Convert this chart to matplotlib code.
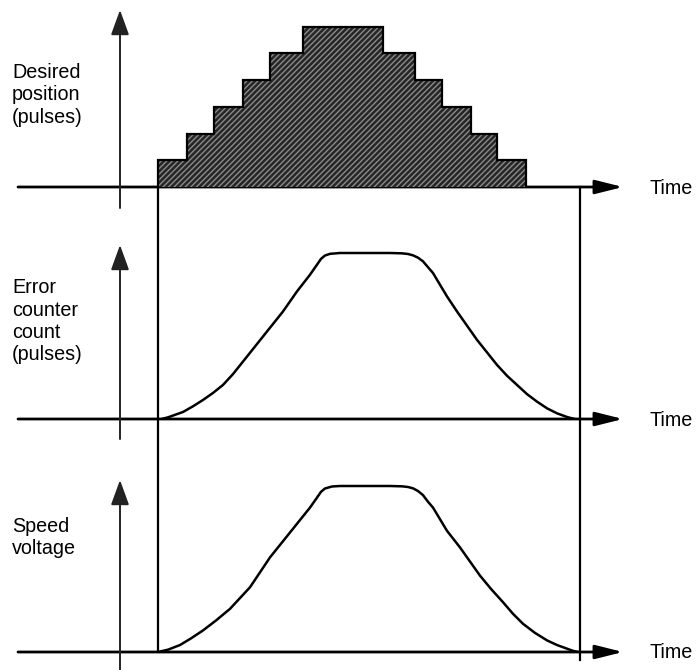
import matplotlib
matplotlib.use('Agg')
import matplotlib.pyplot as plt

# desired position: stair steps (time edges, pulse level)
step_edges = [0, 29, 56, 85, 112, 145, 225, 257, 284, 313, 339, 368]
step_levels = [1, 2, 3, 4, 5, 6, 5, 4, 3, 2, 1]

# error counter count (% of max)
err_t = [0, 10, 25, 35, 45, 55, 65, 75, 85, 95, 105, 115, 125, 139, 152, 159, 163, 167,
         172, 182, 232, 244, 250, 255, 260, 265, 270, 275, 282, 289, 299, 309, 319, 329,
         339, 349, 359, 369, 379, 389, 399, 409, 414, 418, 422]
err_v = [0, 1.6, 4.8, 8.2, 12, 16.2, 21, 27.5, 35, 42.5, 50, 57.5, 65, 77, 87, 93, 96.5, 98.5,
         99.5, 100, 100, 99.8, 99.4, 98.6, 97.2, 95, 91.5, 88, 81, 74, 65, 56.5, 48, 40.5,
         33, 26.5, 21, 15.5, 11, 7, 4, 1.8, 1, 0.4, 0]

# speed voltage (% of max)
spd_t = [0, 10, 22, 33, 45, 58, 72, 82, 92, 102, 112, 122, 132, 142, 152, 159, 163, 167,
         174, 182, 232, 244, 250, 255, 260, 265, 270, 275, 282, 289, 302, 312, 322, 333,
         345, 355, 365, 377, 389, 399, 409, 415, 420]
spd_v = [0, 1.4, 4.2, 8.2, 13, 19, 26, 32.5, 39, 48, 57, 64.5, 72, 79.5, 87, 93, 96.5, 98.5,
         99.7, 100, 100, 99.8, 99.4, 98.6, 97, 94.5, 90.5, 87, 80, 73, 63, 54.5, 46, 38,
         30, 23, 17, 11.5, 7, 4.2, 2, 0.7, 0]

plt.rcParams['font.family'] = ['Liberation Sans', 'DejaVu Sans']
W, H = 696, 670
fig = plt.figure(figsize=(W / 100, H / 100), dpi=100)

def panel(top, base):
    ax = fig.add_axes([0, 1 - base / H, 1, (base - top) / H])
    ax.set_xlim(-158, W - 158)
    ax.axis('off')
    return ax

# top panel: hatched stair
ax1 = panel(0, 187)
ax1.set_ylim(0, 187 / 26.7)
ax1.stairs(step_levels, step_edges, fill=True, facecolor='#262626', linewidth=0)
ax1.stairs(step_levels, step_edges, fill=True, facecolor='none', edgecolor='#8a8a8a',
           hatch='//////', linewidth=0)
ax1.stairs(step_levels, step_edges, color='black', linewidth=1.6)

ax2 = panel(220, 420)
ax2.set_ylim(0, 200 / 1.67)
ax2.plot(err_t, err_v, color='black', lw=1.8, solid_joinstyle='round')

ax3 = panel(460, 652)
ax3.set_ylim(0, 192 / 1.66)
ax3.plot(spd_t, spd_v, color='black', lw=1.8, solid_joinstyle='round')

# overlay in pixel units for axes arrows, guides and labels
ov = fig.add_axes([0, 0, 1, 1], zorder=-1)
ov.set_xlim(0, W)
ov.set_ylim(H, 0)
ov.axis('off')

hstyle = '-|>,head_length=1.2,head_width=0.3'
vstyle = '-|>,head_length=1.1,head_width=0.4'
for base in [187, 419, 652]:
    ov.annotate('', xy=(623, base), xytext=(18, base),
                arrowprops=dict(arrowstyle=hstyle, lw=2, color='black',
                                shrinkA=0, shrinkB=0, mutation_scale=14))
    ov.text(649, base + 1, 'Time', fontsize=14.2, va='center', ha='left')

for y0, y1 in [(208, 10), (439, 245), (670, 480)]:
    ov.annotate('', xy=(120, y1), xytext=(120, y0),
                arrowprops=dict(arrowstyle=vstyle, lw=1.4, color='#222222',
                                shrinkA=0, shrinkB=0, mutation_scale=14))

ov.plot([158, 158], [187, 652], color='black', lw=1.6)
ov.plot([580, 580], [187, 660], color='black', lw=1.6)

labels = [(['Desired', 'position', '(pulses)'], 78),
          (['Error', 'counter', 'count', '(pulses)'], 293),
          (['Speed', 'voltage'], 532)]
for lines, y in labels:
    for i, s in enumerate(lines):
        ov.text(12, y + i * 22.5, s, fontsize=14.2, va='baseline', ha='left')

fig.savefig('out.png', dpi=100)
